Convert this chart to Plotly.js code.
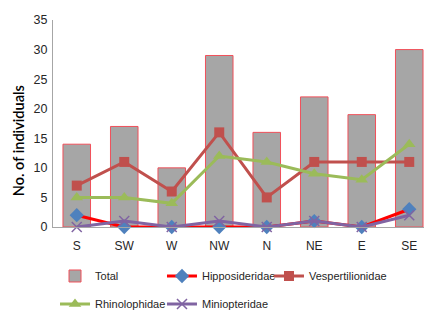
<!DOCTYPE html>
<html><head><meta charset="utf-8">
<script src="https://cdn.plot.ly/plotly-3.0.1.min.js"></script>
<style>html,body{margin:0;padding:0;overflow:hidden;background:#fff;}</style>
</head><body>
<div id="chart"></div>
<script>
const categories = ["S","SW","W","NW","N","NE","E","SE"];
const total = [14,17,10,29,16,22,19,30];
const hipposideridae = [2,0,0,0,0,1,0,3];
const vespertilionidae = [7,11,6,16,5,11,11,11];
const rhinolophidae = [5,5,4,12,11,9,8,14];
const miniopteridae = [0,1,0,1,0,1,0,2];
const yTicks = [0,5,10,15,20,25,30,35];

const SANS = "Liberation Sans, Arial, sans-serif";
const legendFont = {family: SANS, size: 11, color: "#262626"};
const tickFontX = {family: SANS, size: 12, color: "#262626"};
const tickFontY = {family: SANS, size: 12.5, color: "#262626"};

const traces = [
  {type:"bar", name:"Total", x:categories, y:total, width:0.58,
   marker:{color:"#A6A6A6", line:{color:"#F0505A", width:1}}, legend:"legend"},
  {type:"scatter", mode:"lines+markers", name:"Hipposideridae", x:categories, y:hipposideridae,
   line:{color:"#FF0000", width:3}, marker:{symbol:"diamond", size:11, color:"#4F81BD"}, legend:"legend2", cliponaxis:false},
  {type:"scatter", mode:"lines+markers", name:"Vespertilionidae", x:categories, y:vespertilionidae,
   line:{color:"#C0504D", width:3}, marker:{symbol:"square", size:10, color:"#C0504D"}, legend:"legend3", cliponaxis:false},
  {type:"scatter", mode:"lines+markers", name:"Rhinolophidae", x:categories, y:rhinolophidae,
   line:{color:"#9BBB59", width:3}, marker:{symbol:"triangle-up", size:11, color:"#9BBB59"}, legend:"legend4", cliponaxis:false},
  {type:"scatter", mode:"lines+markers", name:"Miniopteridae", x:categories, y:miniopteridae,
   line:{color:"#8064A2", width:3}, marker:{symbol:"x-thin-open", size:10, color:"#8064A2", line:{width:1.5, color:"#8064A2"}}, legend:"legend5", cliponaxis:false}
];

function leg(x, y) {
  return {orientation:"h", xanchor:"left", yanchor:"middle", x:x, y:y, font:legendFont,
    bgcolor:"rgba(0,0,0,0)", itemwidth:30};
}
const row1 = -0.2367, row2 = -0.372;

const layout = {
  width: 436, height: 310,
  margin: {l:53, r:3, t:20, b:83, autoexpand:false},
  paper_bgcolor:"#fff", plot_bgcolor:"#fff",
  font: legendFont,
  showlegend: true,
  xaxis: {type:"category", range:[-0.5,7.5], showline:true, linecolor:"#A6A6A6", linewidth:1,
          ticks:"", showgrid:false, zeroline:false, tickfont:tickFontX, ticklabelstandoff:8},
  yaxis: {range:[0,35], tickvals:yTicks, showline:true, linecolor:"#A6A6A6", linewidth:1,
          ticks:"", showgrid:false, zeroline:false, tickfont:tickFontY, ticklabelstandoff:2},
  annotations: [{text:"No. of individuals", xref:"paper", yref:"paper", x:-0.092, y:0.415,
    textangle:-90, showarrow:false, xanchor:"center", yanchor:"middle",
    font:{family:"Lato, Liberation Sans, sans-serif", size:14.5, color:"#000", weight:600}}],
  legend: leg(0.0053, row1),
  legend2: leg(0.2868, row1),
  legend3: leg(0.5684, row1),
  legend4: leg(0.0053, row2),
  legend5: leg(0.2868, row2)
};

Plotly.newPlot("chart", traces, layout, {displayModeBar:false, staticPlot:true});
</script>
</body></html>
